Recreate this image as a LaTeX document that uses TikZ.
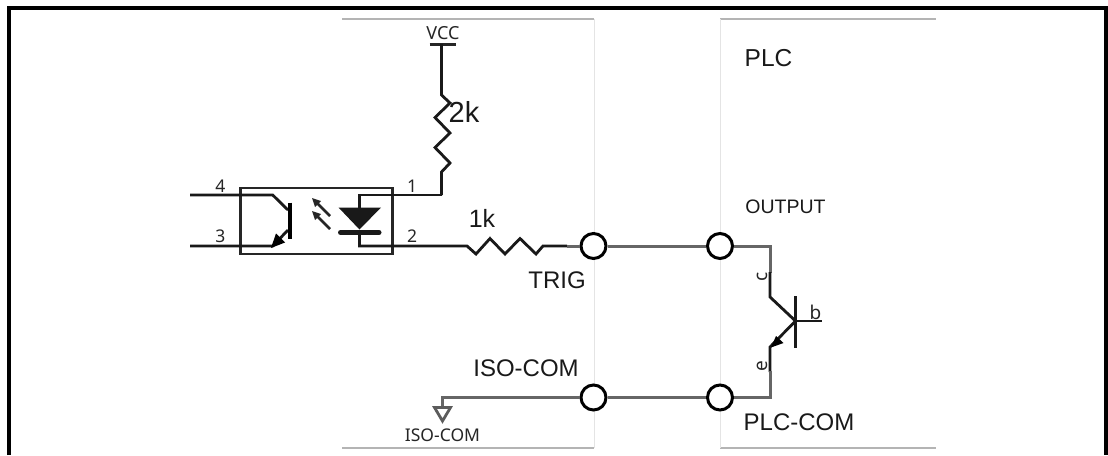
\documentclass[tikz,border=0pt]{standalone}
\usepackage{fontspec}
\setmainfont{Liberation Sans}
\newfontfamily\tah{Noto Sans}
\definecolor{wiregray}{HTML}{666666}
\definecolor{panelv}{HTML}{E4E4E4}
\definecolor{panelh}{HTML}{B4B4B4}
\tikzset{
  blk/.style={line width=2.8pt,black!90,line join=miter},
  gry/.style={line width=3pt,wiregray,line join=miter},
  vpanel/.style={line width=1pt,panelv},
  hpanel/.style={line width=1.2pt,panelh},
  terminal/.style={circle,draw=black,fill=white,line width=3pt,minimum size=25pt,inner sep=0pt},
  lbl/.style={inner sep=0pt,text=black!90},
  pin/.style={inner sep=0pt,text=black!85,font=\tah\fontsize{17.5}{17.5}\selectfont},
}
\begin{document}
\begin{tikzpicture}[x=1pt,y=-1pt]
\useasboundingbox (0,0) rectangle (1108,455);
% frame
\fill[white] (0,0) rectangle (1108,455);
\draw[line width=4pt,line cap=butt] (9,455) -- (9,8) -- (1106,8) -- (1106,455);
% panels
\draw[hpanel] (342,19) -- (594,19);
\draw[hpanel] (342,448) -- (594,448);
\draw[vpanel] (594,19) -- (594,448);
\draw[hpanel] (720,19) -- (936,19);
\draw[hpanel] (720,448) -- (936,448);
\draw[vpanel] (720,19) -- (720,448);
% terminals
\node[terminal] (t1) at (593.5,246) {};
\node[terminal] (t2) at (720,246) {};
\node[terminal] (t3) at (593.5,397.5) {};
\node[terminal] (t4) at (720,397.5) {};
% optocoupler
\draw[line width=2.6pt,black!85] (240.5,188) rectangle (392.5,254);
\coordinate (p4) at (190,195);
\coordinate (p3) at (190,246);
\draw[blk] (p4) -- (272.7,195) -- (288,210);
\draw[blk] (p3) -- (272.7,246) -- (288,230);
\draw[line width=4.5pt,black] (290,202.5) -- (290,239);
\fill[black] (271,248) -- (276,233.5) -- (285,242.5) -- cycle;
% LED arrows
\draw[line width=2.6pt,black!85] (330,216) -- (316,202);
\draw[line width=2.6pt,black!85] (330,229) -- (316,215);
\fill[black!85] (312,198) -- (321,201) -- (315,207) -- cycle;
\fill[black!85] (312,211) -- (321,214) -- (315,220) -- cycle;
% diode
\fill[black!90] (338.5,207.5) -- (381,207.5) -- (359.5,229.5) -- cycle;
\draw[line width=5pt,black!90,line cap=round] (340.5,232.5) -- (379,232.5);
\draw[blk] (441.5,195) -- (359.5,195) -- (359.5,210);
\draw[blk] (359.5,230) -- (359.5,246) -- (467,246) -- (476,254) -- (490,238.5) -- (505,254) -- (520,238.5) -- (536,254) -- (543,246) -- (567,246);
\draw[gry] (567,246) -- (t1);
% VCC + 2k
\coordinate (vcc) at (441.5,44);
\draw[line width=3pt,black!85] (429.5,44) -- (456,44);
\draw[blk] (vcc) -- (441.5,95) -- (450,103) -- (435,117.5) -- (450,133) -- (435,147.5) -- (450,163) -- (441.5,172) -- (441.5,195);
% link
\draw[gry] (t1) -- (t2);
\draw[gry] (t3) -- (t4);
% PLC transistor
\coordinate (base) at (795.5,321);
\draw[gry] (t2) -- (770,246) -- (770,273);
\draw[blk] (770,272) -- (770,297) -- (base);
\draw[blk] (795.5,296) -- (795.5,347.5);
\draw[blk] (base) -- (821.5,321);
\draw[blk] (base) -- (770,347) -- (770,372);
\fill[black] (771,347.5) -- (776,336) -- (783.5,343) -- cycle;
\draw[gry] (770,371) -- (770,397.5) -- (t4);
% ground
\draw[gry] (t3) -- (442,397.5) -- (442,407);
\draw[line width=2.8pt,wiregray!90!black,line join=miter] (434.5,407.5) -- (450.5,407.5) -- (442.5,421) -- cycle;
% labels
\node[lbl,font=\fontsize{24.5}{24.5}\selectfont] (lplc) at (768.5,58) {PLC};
\node[lbl,font=\fontsize{19.5}{19.5}\selectfont] (lout) at (785.5,207) {OUTPUT};
\node[lbl,font=\fontsize{29}{29}\selectfont] (l2k) at (464,112) {2k};
\node[lbl,font=\fontsize{25}{25}\selectfont] (l1k) at (482,218) {1k};
\node[lbl,font=\fontsize{24}{24}\selectfont] (ltrig) at (557,280.5) {TRIG};
\node[lbl,font=\fontsize{24}{24}\selectfont] (liso) at (526,368) {ISO-COM};
\node[lbl,font=\fontsize{24}{24}\selectfont] (lpc) at (799,422) {PLC-COM};
\node[pin,font=\tah\fontsize{18}{18}\selectfont] (lvcc) at (443,33.5) {VCC};
\node[pin,font=\tah\fontsize{17.5}{17.5}\selectfont] (lgnd) at (442.5,435) {ISO-COM};
\node[pin] (n4) at (220.5,186) {4};
\node[pin] (n3) at (220.5,236) {3};
\node[pin] (n1) at (412,186) {1};
\node[pin] (n2) at (412,236) {2};
\node[pin,rotate=90,font=\tah\fontsize{19}{19}\selectfont] (lc) at (762,277) {c};
\node[pin,rotate=90,font=\tah\fontsize{19}{19}\selectfont] (le) at (762,366) {e};
\node[pin,font=\tah\fontsize{19}{19}\selectfont] (lb) at (815.5,312) {b};
\end{tikzpicture}
\end{document}
